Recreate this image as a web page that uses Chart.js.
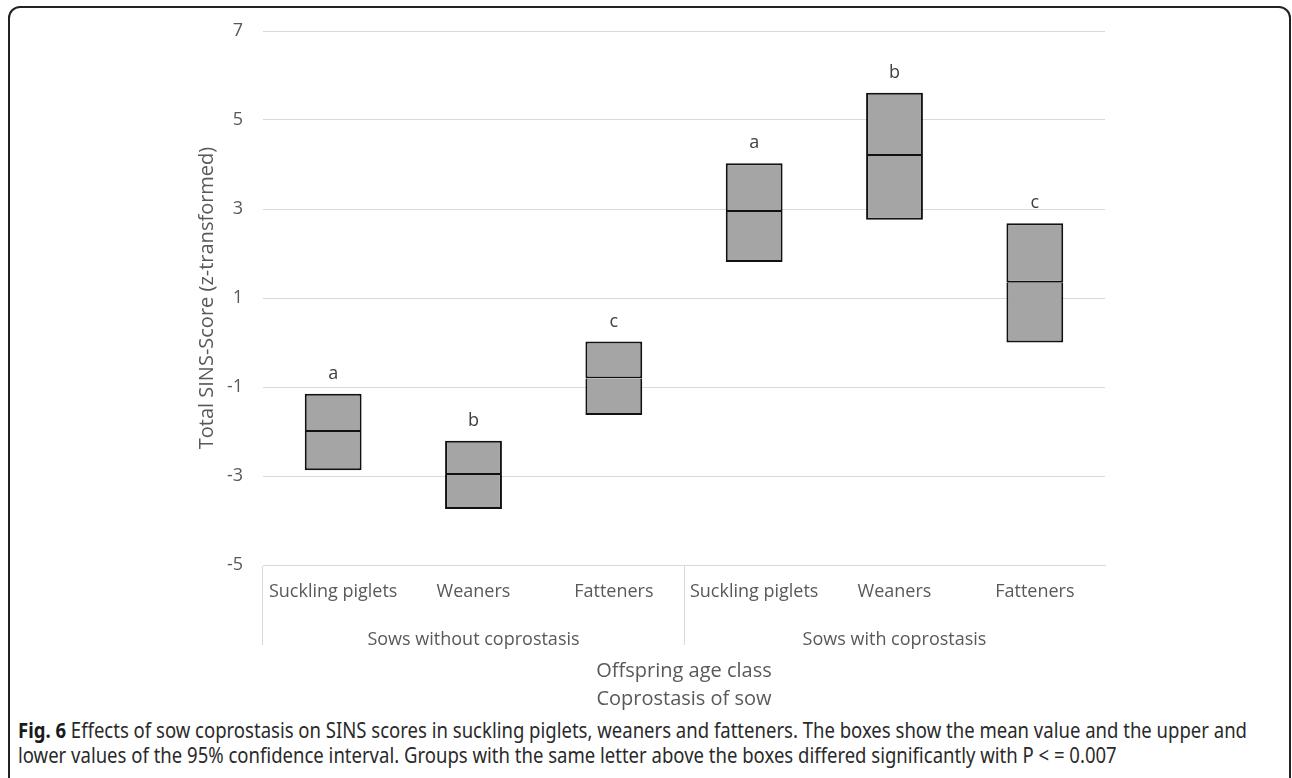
<!DOCTYPE html>
<html>
<head>
<meta charset="utf-8">
<script src="https://cdn.jsdelivr.net/npm/chart.js@4.4.1/dist/chart.umd.min.js"></script>
<style>
  html, body { margin: 0; padding: 0; background: #ffffff; }
  body { width: 1292px; height: 778px; position: relative; overflow: hidden; }
  #frame {
    position: absolute; left: 8px; top: 6px; width: 1279px; height: 820px;
    border: 2px solid #222222; border-radius: 12px; pointer-events: none;
  }
  #chart { position: absolute; left: 0; top: 0; }
  #caption {
    position: absolute; left: 18px; top: 718px;
    font-family: "Noto Sans", "Open Sans", sans-serif; font-size: 21px; line-height: 25px;
    color: #2a2a2a; white-space: nowrap; transform-origin: 0 0;
  }
  #caption b { font-weight: 700; color: #1a1a1a; }
</style>
</head>
<body>
<div id="frame"></div>
<canvas id="chart" width="1292" height="715"></canvas>
<div id="caption">
  <div id="capLine1"><b>Fig. 6</b> Effects of sow coprostasis on SINS scores in suckling piglets, weaners and fatteners. The boxes show the mean value and the upper and</div>
  <div>lower values of the 95% confidence interval. Groups with the same letter above the boxes differed significantly with P &lt; = 0.007</div>
</div>
<script>
// Offspring age classes, shown once for each sow group
const ageClasses = ['Suckling piglets', 'Weaners', 'Fatteners', 'Suckling piglets', 'Weaners', 'Fatteners'];
const sowGroups = ['Sows without coprostasis', 'Sows with coprostasis'];

// Total SINS-Score (z-transformed): 95% CI bounds and mean per group
const lowerCI   = [-2.87, -3.74, -1.63, 1.81, 2.76, 0.00];
const meanScore = [-2.01, -2.98, -0.81, 2.93, 4.19, 1.34];
const upperCI   = [-1.15, -2.21, 0.02, 4.03, 5.61, 2.68];

// Significance letters above each box
const sigLetters = ['a', 'b', 'c', 'a', 'b', 'c'];

// Y axis tick values
const yTicks = [-5, -3, -1, 1, 3, 5, 7];

const TEXT = '#595959';
const GRID = '#d9d9d9';
const FONT = '"Open Sans", "Segoe UI", sans-serif';

// Lower half of each box: CI low -> mean; upper half: mean -> CI high
const lowerHalf = lowerCI.map((v, i) => [v, meanScore[i]]);
const upperHalf = meanScore.map((v, i) => [v, upperCI[i]]);

const letterPlugin = {
  id: 'sigLetters',
  afterDatasetsDraw(chart) {
    const { ctx, scales: { x, y } } = chart;
    ctx.save();
    ctx.font = '18px ' + FONT;
    ctx.fillStyle = '#404040';
    ctx.textAlign = 'center';
    ctx.textBaseline = 'middle';
    sigLetters.forEach((t, i) => {
      ctx.fillText(t, x.getPixelForValue(i), y.getPixelForValue(upperCI[i]) - 20);
    });
    ctx.restore();
  }
};

const boxStyle = {
  backgroundColor: '#a5a5a5',
  borderColor: '#111111',
  borderSkipped: false,
  grouped: false,
  barPercentage: 0.405,
  categoryPercentage: 1.0
};

new Chart(document.getElementById('chart'), {
  type: 'bar',
  data: {
    labels: ageClasses,
    datasets: [
      Object.assign({ label: 'lower', data: lowerHalf,
        borderWidth: { top: 0, bottom: 2, left: 2, right: 2 } }, boxStyle),
      Object.assign({ label: 'upper', data: upperHalf,
        borderWidth: { top: 2, bottom: 2, left: 2, right: 2 } }, boxStyle)
    ]
  },
  options: {
    responsive: false,
    animation: false,
    devicePixelRatio: 1,
    layout: { padding: { left: 190, right: 187, top: 31, bottom: 2 } },
    plugins: { legend: { display: false }, tooltip: { enabled: false } },
    scales: {
      y: {
        min: -5, max: 7,
        afterBuildTicks: (s) => { s.ticks = yTicks.map(v => ({ value: v })); },
        afterFit: (s) => { s.width = 73; },
        grid: { color: GRID, lineWidth: 1, drawTicks: false },
        border: { display: false },
        ticks: { padding: 20, color: TEXT, font: { family: FONT, size: 18 } },
        title: {
          display: true, text: 'Total SINS-Score (z-transformed)',
          color: TEXT, font: { family: FONT, size: 20 }, padding: { top: 5, bottom: 0 }
        }
      },
      x: {
        offset: true,
        afterFit: (s) => { s.height = 40; },
        grid: {
          offset: true, drawOnChartArea: false, drawTicks: true, tickLength: 80,
          lineWidth: 1,
          color: (c) => (c.index % 3 === 0 ? GRID : 'rgba(0,0,0,0)')
        },
        border: { display: true, color: GRID, width: 1 },
        ticks: {
          padding: -64, autoSkip: false, maxRotation: 0, minRotation: 0,
          color: TEXT, font: { family: FONT, size: 18 }
        }
      },
      x2: {
        type: 'category',
        position: 'bottom',
        labels: sowGroups,
        offset: true,
        afterFit: (s) => { s.height = 108; },
        grid: { display: false },
        border: { display: false },
        ticks: { padding: 16, color: TEXT, font: { family: FONT, size: 18 } },
        title: {
          display: true, text: ['Offspring age class', 'Coprostasis of sow'],
          color: TEXT, font: { family: FONT, size: 20, lineHeight: '28px' },
          padding: { top: 0, bottom: 0 }
        }
      }
    }
  },
  plugins: [letterPlugin]
});

// Fit the caption's first line to the frame width
(function fitCaption() {
  const cap = document.getElementById('caption');
  const line1 = document.getElementById('capLine1');
  const range = document.createRange();
  range.selectNodeContents(line1);
  const textW = range.getBoundingClientRect().width;
  cap.style.transform = 'scaleX(' + (1229 / textW) + ')';
})();
</script>
</body>
</html>
